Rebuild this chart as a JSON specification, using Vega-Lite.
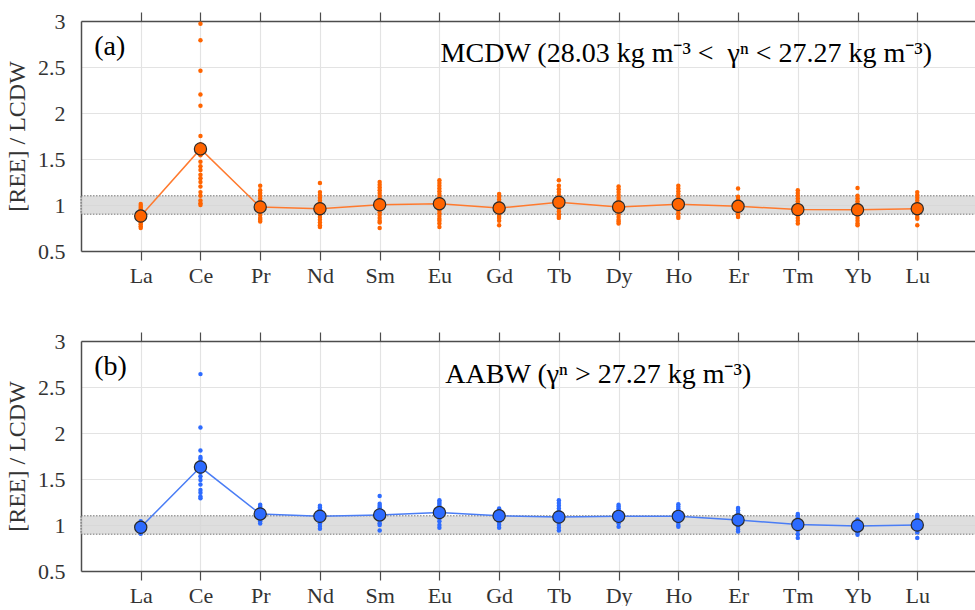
{
  "$schema": "https://vega.github.io/schema/vega-lite/v6.json",
  "background": "white",
  "padding": {"left": 5, "top": 10, "right": 0, "bottom": 0},
  "spacing": 90,
  "bounds": "flush",
  "config": {
    "font": "Liberation Serif",
    "view": {"stroke": null},
    "axis": {
      "labelFont": "Liberation Serif", "labelFontSize": 22, "labelColor": "#333333",
      "titleFont": "Liberation Serif", "titleFontSize": 24, "titleFontWeight": "normal", "titleColor": "#333333",
      "domainColor": "#4d4d4d", "domainWidth": 1.5, "tickColor": "#4d4d4d", "tickWidth": 1.2,
      "gridColor": "#e3e3e3", "gridWidth": 1.2
    }
  },
  "datasets": {
    "order": [
      {"el": "La", "n": 1}, {"el": "Ce", "n": 2}, {"el": "Pr", "n": 3}, {"el": "Nd", "n": 4},
      {"el": "Sm", "n": 5}, {"el": "Eu", "n": 6}, {"el": "Gd", "n": 7}, {"el": "Tb", "n": 8},
      {"el": "Dy", "n": 9}, {"el": "Ho", "n": 10}, {"el": "Er", "n": 11}, {"el": "Tm", "n": 12},
      {"el": "Yb", "n": 13}, {"el": "Lu", "n": 14}
    ],
    "meanA": [
      {"el": "La", "v": 0.88}, {"el": "Ce", "v": 1.61}, {"el": "Pr", "v": 0.978}, {"el": "Nd", "v": 0.96},
      {"el": "Sm", "v": 1.003}, {"el": "Eu", "v": 1.014}, {"el": "Gd", "v": 0.967}, {"el": "Tb", "v": 1.03},
      {"el": "Dy", "v": 0.978}, {"el": "Ho", "v": 1.007}, {"el": "Er", "v": 0.986}, {"el": "Tm", "v": 0.95},
      {"el": "Yb", "v": 0.948}, {"el": "Lu", "v": 0.96}
    ],
    "meanB": [
      {"el": "La", "v": 0.975}, {"el": "Ce", "v": 1.63}, {"el": "Pr", "v": 1.12}, {"el": "Nd", "v": 1.095},
      {"el": "Sm", "v": 1.11}, {"el": "Eu", "v": 1.135}, {"el": "Gd", "v": 1.10}, {"el": "Tb", "v": 1.087},
      {"el": "Dy", "v": 1.094}, {"el": "Ho", "v": 1.094}, {"el": "Er", "v": 1.055}, {"el": "Tm", "v": 1.005},
      {"el": "Yb", "v": 0.99}, {"el": "Lu", "v": 1.0}
    ],
    "dotsA": [
      {"el":"La","v":1.01},{"el":"La","v":0.99},{"el":"La","v":0.97},{"el":"La","v":0.95},{"el":"La","v":0.93},{"el":"La","v":0.91},{"el":"La","v":0.89},{"el":"La","v":0.87},{"el":"La","v":0.85},{"el":"La","v":0.83},{"el":"La","v":0.81},{"el":"La","v":0.79},{"el":"La","v":0.77},{"el":"La","v":0.75},
      {"el":"Ce","v":2.97},{"el":"Ce","v":2.79},{"el":"Ce","v":2.46},{"el":"Ce","v":2.20},{"el":"Ce","v":2.08},{"el":"Ce","v":1.75},{"el":"Ce","v":1.66},{"el":"Ce","v":1.58},{"el":"Ce","v":1.54},{"el":"Ce","v":1.47},{"el":"Ce","v":1.42},{"el":"Ce","v":1.38},{"el":"Ce","v":1.33},{"el":"Ce","v":1.29},{"el":"Ce","v":1.25},{"el":"Ce","v":1.20},{"el":"Ce","v":1.14},{"el":"Ce","v":1.10},{"el":"Ce","v":1.05},{"el":"Ce","v":1.02},{"el":"Ce","v":1.00},
      {"el":"Pr","v":1.21},{"el":"Pr","v":1.16},{"el":"Pr","v":1.13},{"el":"Pr","v":1.10},{"el":"Pr","v":1.07},{"el":"Pr","v":1.04},{"el":"Pr","v":1.01},{"el":"Pr","v":0.98},{"el":"Pr","v":0.95},{"el":"Pr","v":0.92},{"el":"Pr","v":0.89},{"el":"Pr","v":0.86},{"el":"Pr","v":0.84},{"el":"Pr","v":0.82},
      {"el":"Nd","v":1.24},{"el":"Nd","v":1.14},{"el":"Nd","v":1.11},{"el":"Nd","v":1.08},{"el":"Nd","v":1.05},{"el":"Nd","v":1.02},{"el":"Nd","v":0.99},{"el":"Nd","v":0.96},{"el":"Nd","v":0.93},{"el":"Nd","v":0.90},{"el":"Nd","v":0.87},{"el":"Nd","v":0.84},{"el":"Nd","v":0.81},{"el":"Nd","v":0.78},{"el":"Nd","v":0.76},
      {"el":"Sm","v":1.25},{"el":"Sm","v":1.22},{"el":"Sm","v":1.19},{"el":"Sm","v":1.16},{"el":"Sm","v":1.13},{"el":"Sm","v":1.10},{"el":"Sm","v":1.07},{"el":"Sm","v":1.04},{"el":"Sm","v":1.01},{"el":"Sm","v":0.98},{"el":"Sm","v":0.95},{"el":"Sm","v":0.92},{"el":"Sm","v":0.89},{"el":"Sm","v":0.86},{"el":"Sm","v":0.83},{"el":"Sm","v":0.81},{"el":"Sm","v":0.75},
      {"el":"Eu","v":1.27},{"el":"Eu","v":1.24},{"el":"Eu","v":1.21},{"el":"Eu","v":1.18},{"el":"Eu","v":1.15},{"el":"Eu","v":1.12},{"el":"Eu","v":1.09},{"el":"Eu","v":1.06},{"el":"Eu","v":1.03},{"el":"Eu","v":1.00},{"el":"Eu","v":0.97},{"el":"Eu","v":0.94},{"el":"Eu","v":0.91},{"el":"Eu","v":0.88},{"el":"Eu","v":0.85},{"el":"Eu","v":0.83},{"el":"Eu","v":0.80},{"el":"Eu","v":0.76},
      {"el":"Gd","v":1.12},{"el":"Gd","v":1.09},{"el":"Gd","v":1.06},{"el":"Gd","v":1.03},{"el":"Gd","v":1.00},{"el":"Gd","v":0.97},{"el":"Gd","v":0.94},{"el":"Gd","v":0.91},{"el":"Gd","v":0.88},{"el":"Gd","v":0.86},{"el":"Gd","v":0.83},{"el":"Gd","v":0.78},
      {"el":"Tb","v":1.27},{"el":"Tb","v":1.21},{"el":"Tb","v":1.17},{"el":"Tb","v":1.14},{"el":"Tb","v":1.11},{"el":"Tb","v":1.08},{"el":"Tb","v":1.05},{"el":"Tb","v":1.02},{"el":"Tb","v":0.99},{"el":"Tb","v":0.96},{"el":"Tb","v":0.93},{"el":"Tb","v":0.90},{"el":"Tb","v":0.88},{"el":"Tb","v":0.86},
      {"el":"Dy","v":1.20},{"el":"Dy","v":1.17},{"el":"Dy","v":1.14},{"el":"Dy","v":1.11},{"el":"Dy","v":1.08},{"el":"Dy","v":1.05},{"el":"Dy","v":1.02},{"el":"Dy","v":0.99},{"el":"Dy","v":0.96},{"el":"Dy","v":0.93},{"el":"Dy","v":0.90},{"el":"Dy","v":0.87},{"el":"Dy","v":0.84},{"el":"Dy","v":0.82},{"el":"Dy","v":0.80},
      {"el":"Ho","v":1.21},{"el":"Ho","v":1.18},{"el":"Ho","v":1.15},{"el":"Ho","v":1.12},{"el":"Ho","v":1.09},{"el":"Ho","v":1.06},{"el":"Ho","v":1.03},{"el":"Ho","v":1.00},{"el":"Ho","v":0.97},{"el":"Ho","v":0.94},{"el":"Ho","v":0.91},{"el":"Ho","v":0.88},{"el":"Ho","v":0.86},
      {"el":"Er","v":1.18},{"el":"Er","v":1.09},{"el":"Er","v":1.06},{"el":"Er","v":1.03},{"el":"Er","v":1.00},{"el":"Er","v":0.97},{"el":"Er","v":0.94},{"el":"Er","v":0.91},{"el":"Er","v":0.89},{"el":"Er","v":0.87},
      {"el":"Tm","v":1.16},{"el":"Tm","v":1.13},{"el":"Tm","v":1.10},{"el":"Tm","v":1.07},{"el":"Tm","v":1.04},{"el":"Tm","v":1.01},{"el":"Tm","v":0.98},{"el":"Tm","v":0.95},{"el":"Tm","v":0.92},{"el":"Tm","v":0.89},{"el":"Tm","v":0.86},{"el":"Tm","v":0.83},{"el":"Tm","v":0.80},
      {"el":"Yb","v":1.185},{"el":"Yb","v":1.10},{"el":"Yb","v":1.07},{"el":"Yb","v":1.04},{"el":"Yb","v":1.01},{"el":"Yb","v":0.98},{"el":"Yb","v":0.95},{"el":"Yb","v":0.92},{"el":"Yb","v":0.89},{"el":"Yb","v":0.86},{"el":"Yb","v":0.83},{"el":"Yb","v":0.80},{"el":"Yb","v":0.78},
      {"el":"Lu","v":1.14},{"el":"Lu","v":1.11},{"el":"Lu","v":1.08},{"el":"Lu","v":1.05},{"el":"Lu","v":1.02},{"el":"Lu","v":0.99},{"el":"Lu","v":0.96},{"el":"Lu","v":0.93},{"el":"Lu","v":0.90},{"el":"Lu","v":0.87},{"el":"Lu","v":0.85},{"el":"Lu","v":0.78}
    ],
    "dotsB": [
      {"el":"La","v":1.04},{"el":"La","v":1.02},{"el":"La","v":1.00},{"el":"La","v":0.98},{"el":"La","v":0.96},{"el":"La","v":0.94},{"el":"La","v":0.92},{"el":"La","v":0.905},
      {"el":"Ce","v":2.64},{"el":"Ce","v":2.06},{"el":"Ce","v":1.81},{"el":"Ce","v":1.74},{"el":"Ce","v":1.72},{"el":"Ce","v":1.69},{"el":"Ce","v":1.66},{"el":"Ce","v":1.63},{"el":"Ce","v":1.60},{"el":"Ce","v":1.57},{"el":"Ce","v":1.53},{"el":"Ce","v":1.49},{"el":"Ce","v":1.44},{"el":"Ce","v":1.38},{"el":"Ce","v":1.35},{"el":"Ce","v":1.31},{"el":"Ce","v":1.29},
      {"el":"Pr","v":1.22},{"el":"Pr","v":1.20},{"el":"Pr","v":1.18},{"el":"Pr","v":1.16},{"el":"Pr","v":1.14},{"el":"Pr","v":1.12},{"el":"Pr","v":1.10},{"el":"Pr","v":1.08},{"el":"Pr","v":1.06},{"el":"Pr","v":1.04},{"el":"Pr","v":1.015},
      {"el":"Nd","v":1.21},{"el":"Nd","v":1.19},{"el":"Nd","v":1.17},{"el":"Nd","v":1.15},{"el":"Nd","v":1.13},{"el":"Nd","v":1.11},{"el":"Nd","v":1.09},{"el":"Nd","v":1.07},{"el":"Nd","v":1.05},{"el":"Nd","v":1.02},{"el":"Nd","v":0.99},{"el":"Nd","v":0.96},
      {"el":"Sm","v":1.315},{"el":"Sm","v":1.23},{"el":"Sm","v":1.21},{"el":"Sm","v":1.19},{"el":"Sm","v":1.17},{"el":"Sm","v":1.15},{"el":"Sm","v":1.13},{"el":"Sm","v":1.11},{"el":"Sm","v":1.09},{"el":"Sm","v":1.07},{"el":"Sm","v":1.05},{"el":"Sm","v":1.02},{"el":"Sm","v":1.00},{"el":"Sm","v":0.94},
      {"el":"Eu","v":1.27},{"el":"Eu","v":1.25},{"el":"Eu","v":1.23},{"el":"Eu","v":1.21},{"el":"Eu","v":1.19},{"el":"Eu","v":1.17},{"el":"Eu","v":1.15},{"el":"Eu","v":1.13},{"el":"Eu","v":1.11},{"el":"Eu","v":1.09},{"el":"Eu","v":1.07},{"el":"Eu","v":1.04},{"el":"Eu","v":1.00},{"el":"Eu","v":0.97},
      {"el":"Gd","v":1.18},{"el":"Gd","v":1.16},{"el":"Gd","v":1.14},{"el":"Gd","v":1.12},{"el":"Gd","v":1.10},{"el":"Gd","v":1.08},{"el":"Gd","v":1.06},{"el":"Gd","v":1.03},{"el":"Gd","v":1.00},{"el":"Gd","v":0.97},
      {"el":"Tb","v":1.27},{"el":"Tb","v":1.24},{"el":"Tb","v":1.21},{"el":"Tb","v":1.18},{"el":"Tb","v":1.15},{"el":"Tb","v":1.12},{"el":"Tb","v":1.09},{"el":"Tb","v":1.06},{"el":"Tb","v":1.03},{"el":"Tb","v":1.00},{"el":"Tb","v":0.97},{"el":"Tb","v":0.94},
      {"el":"Dy","v":1.22},{"el":"Dy","v":1.20},{"el":"Dy","v":1.18},{"el":"Dy","v":1.16},{"el":"Dy","v":1.14},{"el":"Dy","v":1.12},{"el":"Dy","v":1.10},{"el":"Dy","v":1.08},{"el":"Dy","v":1.05},{"el":"Dy","v":1.02},{"el":"Dy","v":0.98},
      {"el":"Ho","v":1.225},{"el":"Ho","v":1.20},{"el":"Ho","v":1.18},{"el":"Ho","v":1.16},{"el":"Ho","v":1.14},{"el":"Ho","v":1.12},{"el":"Ho","v":1.10},{"el":"Ho","v":1.08},{"el":"Ho","v":1.06},{"el":"Ho","v":1.03},{"el":"Ho","v":1.00},{"el":"Ho","v":0.98},
      {"el":"Er","v":1.185},{"el":"Er","v":1.16},{"el":"Er","v":1.13},{"el":"Er","v":1.10},{"el":"Er","v":1.07},{"el":"Er","v":1.04},{"el":"Er","v":1.01},{"el":"Er","v":0.98},{"el":"Er","v":0.95},{"el":"Er","v":0.93},
      {"el":"Tm","v":1.12},{"el":"Tm","v":1.10},{"el":"Tm","v":1.08},{"el":"Tm","v":1.06},{"el":"Tm","v":1.03},{"el":"Tm","v":1.00},{"el":"Tm","v":0.97},{"el":"Tm","v":0.94},{"el":"Tm","v":0.90},{"el":"Tm","v":0.86},
      {"el":"Yb","v":1.06},{"el":"Yb","v":1.04},{"el":"Yb","v":1.02},{"el":"Yb","v":1.00},{"el":"Yb","v":0.98},{"el":"Yb","v":0.96},{"el":"Yb","v":0.94},{"el":"Yb","v":0.92},{"el":"Yb","v":0.895},
      {"el":"Lu","v":1.11},{"el":"Lu","v":1.09},{"el":"Lu","v":1.07},{"el":"Lu","v":1.05},{"el":"Lu","v":1.03},{"el":"Lu","v":1.01},{"el":"Lu","v":0.99},{"el":"Lu","v":0.97},{"el":"Lu","v":0.95},{"el":"Lu","v":0.92},{"el":"Lu","v":0.86}
    ]
  },
  "vconcat": [
    {
      "width": 896, "height": 230,
      "resolve": {"axis": {"x": "independent"}},
      "layer": [
        {
          "data": {"values": [{}]},
          "mark": {"type": "rect", "fill": "#d6d6d6", "opacity": 0.8, "stroke": "#555555", "strokeWidth": 1, "strokeDash": [1.5, 1.5]},
          "encoding": {
            "y": {"datum": 0.9, "type": "quantitative", "scale": {"domain": [0.5, 3], "nice": false, "zero": false}},
            "y2": {"datum": 1.1}
          }
        },
        {
          "data": {"name": "dotsA"},
          "transform": [{"lookup": "el", "from": {"data": {"name": "order"}, "key": "el", "fields": ["n"]}}],
          "mark": {"type": "circle", "size": 20, "opacity": 1, "fill": "#ff6400", "strokeWidth": 0},
          "encoding": {
            "x": {"field": "n", "type": "quantitative", "scale": {"domain": [0, 15], "nice": false, "zero": false},
                  "axis": {"orient": "bottom", "values": [1,2,3,4,5,6,7,8,9,10,11,12,13,14], "grid": true, "tickSize": 9, "labelPadding": 5, "title": null,
                           "labelFont": "Liberation Serif", "labelFontSize": 22,
                           "labelExpr": "['','La','Ce','Pr','Nd','Sm','Eu','Gd','Tb','Dy','Ho','Er','Tm','Yb','Lu'][datum.value]"}},
            "y": {"field": "v", "type": "quantitative", "scale": {"domain": [0.5, 3], "nice": false, "zero": false},
                  "axis": {"values": [0.5,1,1.5,2,2.5,3], "format": "~g", "ticks": false, "tickSize": 0, "labelPadding": 16, "grid": true,
                           "labelFont": "Liberation Serif", "labelFontSize": 22,
                           "title": "[REE] / LCDW", "titleFont": "Liberation Serif", "titleFontSize": 24, "titleFontWeight": "normal", "titlePadding": 8}}
          }
        },
        {
          "data": {"name": "meanA"},
          "transform": [{"lookup": "el", "from": {"data": {"name": "order"}, "key": "el", "fields": ["n"]}}],
          "mark": {"type": "line", "stroke": "#ff7a2e", "strokeWidth": 1.5},
          "encoding": {
            "x": {"field": "n", "type": "quantitative", "scale": {"domain": [0, 15], "nice": false, "zero": false},
                  "axis": {"orient": "top", "values": [1,2,3,4,5,6,7,8,9,10,11,12,13,14], "grid": false, "labels": false, "tickSize": 9, "title": null}},
            "y": {"field": "v", "type": "quantitative", "scale": {"domain": [0.5, 3], "nice": false, "zero": false}, "axis": {"title": "[REE] / LCDW"}}
          }
        },
        {
          "data": {"name": "meanA"},
          "transform": [{"lookup": "el", "from": {"data": {"name": "order"}, "key": "el", "fields": ["n"]}}],
          "mark": {"type": "circle", "size": 150, "opacity": 1, "fill": "#ff6400", "stroke": "#2a2a2a", "strokeWidth": 1.2},
          "encoding": {
            "x": {"field": "n", "type": "quantitative", "axis": null},
            "y": {"field": "v", "type": "quantitative", "axis": {"title": "[REE] / LCDW"}}
          }
        },
        {
          "data": {"values": [{}]},
          "mark": {"type": "text", "text": "(a)", "font": "Liberation Serif", "fontSize": 28, "align": "left", "baseline": "alphabetic", "color": "#000000"},
          "encoding": {
            "x": {"datum": 0.22, "type": "quantitative", "axis": null},
            "y": {"datum": 2.63, "type": "quantitative"}
          }
        },
        {
          "data": {"values": [{}]},
          "mark": {"type": "text", "text": "MCDW (28.03 kg m⁻³ < \u00a0γⁿ < 27.27 kg m⁻³)", "font": "Liberation Serif", "fontSize": 28, "align": "left", "baseline": "alphabetic", "color": "#000000"},
          "encoding": {
            "x": {"datum": 6.02, "type": "quantitative", "axis": null},
            "y": {"datum": 2.555, "type": "quantitative"}
          }
        }
      ]
    },
    {
      "width": 896, "height": 230,
      "resolve": {"axis": {"x": "independent"}},
      "layer": [
        {
          "data": {"values": [{}]},
          "mark": {"type": "rect", "fill": "#d6d6d6", "opacity": 0.8, "stroke": "#555555", "strokeWidth": 1, "strokeDash": [1.5, 1.5]},
          "encoding": {
            "y": {"datum": 0.9, "type": "quantitative", "scale": {"domain": [0.5, 3], "nice": false, "zero": false}},
            "y2": {"datum": 1.1}
          }
        },
        {
          "data": {"name": "dotsB"},
          "transform": [{"lookup": "el", "from": {"data": {"name": "order"}, "key": "el", "fields": ["n"]}}],
          "mark": {"type": "circle", "size": 20, "opacity": 1, "fill": "#2d6bff", "strokeWidth": 0},
          "encoding": {
            "x": {"field": "n", "type": "quantitative", "scale": {"domain": [0, 15], "nice": false, "zero": false},
                  "axis": {"orient": "bottom", "values": [1,2,3,4,5,6,7,8,9,10,11,12,13,14], "grid": true, "tickSize": 9, "labelPadding": 5, "title": null,
                           "labelFont": "Liberation Serif", "labelFontSize": 22,
                           "labelExpr": "['','La','Ce','Pr','Nd','Sm','Eu','Gd','Tb','Dy','Ho','Er','Tm','Yb','Lu'][datum.value]"}},
            "y": {"field": "v", "type": "quantitative", "scale": {"domain": [0.5, 3], "nice": false, "zero": false},
                  "axis": {"values": [0.5,1,1.5,2,2.5,3], "format": "~g", "ticks": false, "tickSize": 0, "labelPadding": 16, "grid": true,
                           "labelFont": "Liberation Serif", "labelFontSize": 22,
                           "title": "[REE] / LCDW", "titleFont": "Liberation Serif", "titleFontSize": 24, "titleFontWeight": "normal", "titlePadding": 8}}
          }
        },
        {
          "data": {"name": "meanB"},
          "transform": [{"lookup": "el", "from": {"data": {"name": "order"}, "key": "el", "fields": ["n"]}}],
          "mark": {"type": "line", "stroke": "#4a7df5", "strokeWidth": 1.5},
          "encoding": {
            "x": {"field": "n", "type": "quantitative", "scale": {"domain": [0, 15], "nice": false, "zero": false},
                  "axis": {"orient": "top", "values": [1,2,3,4,5,6,7,8,9,10,11,12,13,14], "grid": false, "labels": false, "tickSize": 9, "title": null}},
            "y": {"field": "v", "type": "quantitative", "scale": {"domain": [0.5, 3], "nice": false, "zero": false}, "axis": {"title": "[REE] / LCDW"}}
          }
        },
        {
          "data": {"name": "meanB"},
          "transform": [{"lookup": "el", "from": {"data": {"name": "order"}, "key": "el", "fields": ["n"]}}],
          "mark": {"type": "circle", "size": 150, "opacity": 1, "fill": "#2d6bff", "stroke": "#2a2a2a", "strokeWidth": 1.2},
          "encoding": {
            "x": {"field": "n", "type": "quantitative", "axis": null},
            "y": {"field": "v", "type": "quantitative", "axis": {"title": "[REE] / LCDW"}}
          }
        },
        {
          "data": {"values": [{}]},
          "mark": {"type": "text", "text": "(b)", "font": "Liberation Serif", "fontSize": 28, "align": "left", "baseline": "alphabetic", "color": "#000000"},
          "encoding": {
            "x": {"datum": 0.22, "type": "quantitative", "axis": null},
            "y": {"datum": 2.627, "type": "quantitative"}
          }
        },
        {
          "data": {"values": [{}]},
          "mark": {"type": "text", "text": "AABW (γⁿ > 27.27 kg m⁻³)", "font": "Liberation Serif", "fontSize": 28, "align": "left", "baseline": "alphabetic", "color": "#000000"},
          "encoding": {
            "x": {"datum": 6.1, "type": "quantitative", "axis": null},
            "y": {"datum": 2.547, "type": "quantitative"}
          }
        }
      ]
    }
  ]
}
